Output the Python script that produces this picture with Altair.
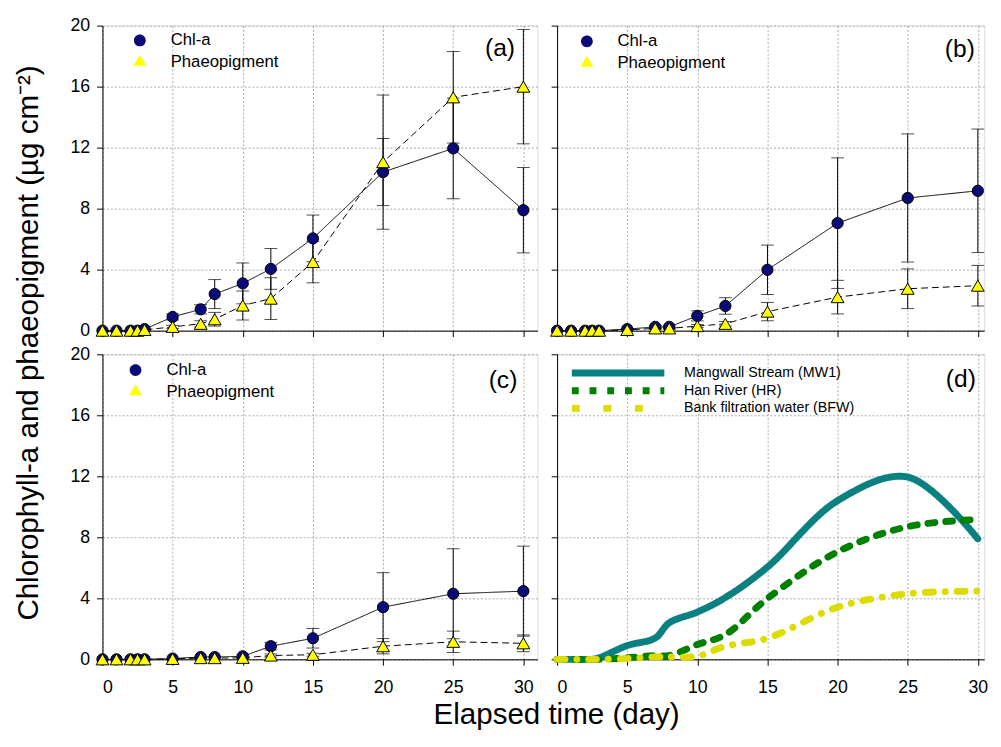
import altair as alt
import pandas as pd

# ---------------- data ----------------
days = [0, 1, 2, 2.5, 3, 5, 7, 8, 10, 12, 15, 20, 25, 30]

# panel (a) Mangwall Stream
a_chl = [0, 0, 0, 0, 0.1, 0.9, 1.4, 2.4, 3.1, 4.05, 6.05, 10.4, 11.95, 7.9]
a_chl_err = [0, 0, 0, 0, 0.05, 0.2, 0.3, 0.95, 1.34, 1.34, 1.53, 2.2, 3.3, 2.8]
a_pha = [0, 0, 0, 0, 0.05, 0.25, 0.45, 0.75, 1.65, 2.1, 4.5, 11.05, 15.3, 16.0]
a_pha_err = [0, 0, 0, 0, 0, 0.1, 0.2, 0.45, 0.95, 1.37, 1.36, 4.4, 3.0, 3.75]

# panel (b) Han River
b_chl = [0, 0, 0, 0, 0, 0.1, 0.25, 0.25, 0.97, 1.62, 3.99, 7.05, 8.7, 9.17]
b_chl_err = [0, 0, 0, 0, 0, 0.05, 0.1, 0.1, 0.33, 0.54, 1.62, 4.28, 4.2, 4.05]
b_pha = [0, 0, 0, 0, 0, 0.05, 0.15, 0.15, 0.3, 0.45, 1.25, 2.2, 2.75, 2.95]
b_pha_err = [0, 0, 0, 0, 0, 0, 0.05, 0.05, 0.1, 0.15, 0.6, 1.1, 1.3, 1.33]

# panel (c) Bank filtration water
c_chl = [0, 0, 0, 0, 0, 0.05, 0.15, 0.15, 0.2, 0.86, 1.38, 3.42, 4.3, 4.47]
c_chl_err = [0, 0, 0, 0, 0, 0, 0.05, 0.05, 0.1, 0.25, 0.64, 2.26, 2.95, 2.95]
c_pha = [0, 0, 0, 0, 0, 0.03, 0.08, 0.08, 0.1, 0.25, 0.3, 0.86, 1.15, 1.05]
c_pha_err = [0, 0, 0, 0, 0, 0, 0, 0, 0.05, 0.1, 0.1, 0.5, 0.7, 0.55]

SERIES = ["Chl-a", "Phaeopigment"]
D_SERIES = ["Mangwall Stream (MW1)", "Han River (HR)", "Bank filtration water (BFW)"]
D_COLORS = ["#0a8080", "#008000", "#dcdc00"]
TAGS = ["(a)", "(b)", "(c)", "(d)"]
X_TICKS = [0, 5, 10, 15, 20, 25, 30]
Y_TICKS = list(range(0, 21, 2))

FONT = "Liberation Sans"
W_L, W_R, H = 442, 434, 310
X_MAX_L, X_MAX_R = 31.0, 30.45
GRID = dict(grid=True, gridDash=[2, 2], gridColor="#a8a8a8", gridWidth=1)

CIRCLE_PATH = "M-3.3,0L-1,0M1,0L3.3,0M-1,0A1,1 0 1,1 1,0A1,1 0 1,1 -1,0Z"
TRI_PATH = ("M-3.3,0L-2.5,0M-2.0,0L-1.2,0M1.2,0L2.0,0M2.5,0L3.3,0"
            "M0,-1.25L-1.08,0.625L1.08,0.625Z")


def xaxis(labels, title=False):
    kw = dict(values=X_TICKS, labels=labels, tickSize=6, tickColor="black",
              domainColor="black", labelFont=FONT, labelFontSize=18,
              labelColor="black", labelPadding=14, **GRID)
    if title:
        kw.update(title="Elapsed time (day)", titleFont=FONT, titleFontSize=30,
                  titleFontWeight="normal", titleColor="black", titleX=461,
                  titleY=65, titleBaseline="alphabetic", titleAlign="center")
    else:
        kw.update(title=None)
    return alt.Axis(**kw)


def yaxis(labels, title=False):
    kw = dict(values=Y_TICKS, labels=labels, tickSize=6, tickColor="black",
              domainColor="black", labelFont=FONT, labelFontSize=18,
              labelColor="black", labelPadding=7, **GRID)
    if title:
        kw.update(title="Chlorophyll-a and phaeopigment (µg cm⁻²)", titleFont=FONT,
                  titleFontSize=30, titleFontWeight="normal", titleColor="black",
                  titleX=-66, titleY=322, titleBaseline="alphabetic",
                  titleAlign="center", titleAngle=270)
    else:
        kw.update(title=None)
    return alt.Axis(**kw)


def tag_layer(tag, xmax, xs, ys, dx, dy):
    tdf = pd.DataFrame({"tag": [tag], "day": [xmax], "value": [20]})
    return alt.Chart(tdf).mark_text(font=FONT, fontSize=25, color="black", align="right",
                                    baseline="alphabetic", dx=dx, dy=dy).encode(
        x=alt.X("day:Q", scale=xs), y=alt.Y("value:Q", scale=ys), text="tag:N")


def pair_panel(chl, chl_err, pha, pha_err, tag, width, xmax, xlab, ylab, xt, yt,
               leg_y, sym_off, lab_off, tdx, tdy):
    rows = []
    for name, vals, errs in ((SERIES[0], chl, chl_err), (SERIES[1], pha, pha_err)):
        for d, v, e in zip(days, vals, errs):
            rows.append(dict(day=d, value=v, err=e, series=name))
    df = pd.DataFrame(rows)
    df["lo"] = df["value"] - df["err"]
    df["hi"] = df["value"] + df["err"]
    dfe = df[df["err"] > 0]
    caps = pd.concat([
        dfe[["day", "lo"]].rename(columns={"lo": "cap"}),
        dfe[["day", "hi"]].rename(columns={"hi": "cap"}),
    ])
    xs = alt.Scale(domain=[0, xmax], nice=False, zero=False)
    ys = alt.Scale(domain=[0, 20], nice=False)
    xa = xaxis(xlab, xt)
    ya = yaxis(ylab, yt)
    X = alt.X("day:Q", scale=xs, axis=xa)

    legend = alt.Legend(
        title=None, orient="none", legendX=0, legendY=leg_y,
        symbolSize=144, symbolStrokeColor="black", symbolStrokeWidth=1,
        symbolOpacity=1, labelFont=FONT, labelFontSize=17, labelColor="black",
        symbolOffset=sym_off, labelOffset=lab_off, rowPadding=4, padding=0,
        clipHeight=17,
    )

    lines = alt.Chart(df).mark_line(color="black", strokeWidth=1).encode(
        x=X,
        y=alt.Y("value:Q", scale=ys, axis=ya),
        detail="series:N",
        strokeDash=alt.StrokeDash("series:N", scale=alt.Scale(domain=SERIES, range=[[1, 0], [7, 4]]), legend=None),
    )
    bars = alt.Chart(dfe).mark_rule(color="black", strokeWidth=1).encode(
        x=X, y=alt.Y("lo:Q", scale=ys, axis=ya), y2="hi:Q")
    capm = alt.Chart(caps).mark_tick(orient="horizontal", size=13, thickness=1, color="black").encode(
        x=X, y=alt.Y("cap:Q", scale=ys, axis=ya))
    pts = alt.Chart(df).mark_point(filled=True, opacity=1, stroke="black", strokeWidth=1).encode(
        x=X,
        y=alt.Y("value:Q", scale=ys, axis=ya),
        shape=alt.Shape("series:N", scale=alt.Scale(domain=SERIES, range=["circle", "triangle-up"]), legend=None),
        fill=alt.Fill("series:N", scale=alt.Scale(domain=SERIES, range=["#0a0a78", "#ffff00"]), legend=None),
        size=alt.Size("series:N", scale=alt.Scale(domain=SERIES, range=[130, 170]), legend=None),
    )
    # legend-only layer (no rows): its shape scale carries the line+marker key glyphs
    ldf = pd.DataFrame({"key": pd.Series([], dtype=str), "day": pd.Series([], dtype=float),
                        "value": pd.Series([], dtype=float)})
    keys = alt.Chart(ldf).mark_point(filled=True, opacity=1, stroke="black", strokeWidth=1).encode(
        x=X,
        y=alt.Y("value:Q", scale=ys, axis=ya),
        shape=alt.Shape("key:N", scale=alt.Scale(domain=SERIES, range=[CIRCLE_PATH, TRI_PATH]), legend=legend),
        fill=alt.Fill("key:N", scale=alt.Scale(domain=SERIES, range=["#0a0a78", "#ffff00"]), legend=legend),
    )
    tagl = tag_layer(tag, xmax, xs, ys, tdx, tdy)
    return alt.layer(lines, bars, capm, pts, keys, tagl).resolve_scale(
        shape="independent", fill="independent").properties(width=width, height=H)


def curve_panel():
    rows = []
    for name, vals in zip(D_SERIES, (a_chl, b_chl, c_chl)):
        for d, v in zip(days, vals):
            rows.append(dict(day=d, value=v, site=name))
    df = pd.DataFrame(rows)
    xs = alt.Scale(domain=[0, X_MAX_R], nice=False, zero=False)
    ys = alt.Scale(domain=[0, 20], nice=False)
    legend = alt.Legend(
        title=None, orient="none", legendX=0, legendY=11, symbolType="stroke",
        symbolSize=8836, symbolStrokeWidth=7, symbolOpacity=1, clipHeight=16,
        labelFont=FONT, labelFontSize=14.5, labelColor="black", labelLimit=400,
        symbolOffset=11.5, labelOffset=16.5, rowPadding=2, padding=0,
    )
    curves = alt.Chart(df).mark_line(strokeWidth=7, strokeCap="round", interpolate="catmull-rom").encode(
        x=alt.X("day:Q", scale=xs, axis=xaxis(True)),
        y=alt.Y("value:Q", scale=ys, axis=yaxis(False)),
        color=alt.Color("site:N", scale=alt.Scale(domain=D_SERIES, range=D_COLORS), legend=legend),
        strokeDash=alt.StrokeDash("site:N", scale=alt.Scale(domain=D_SERIES, range=[[1, 0], [7, 11], [8, 12, 0.1, 12]]), legend=legend),
    )
    return alt.layer(curves, tag_layer("(d)", X_MAX_R, xs, ys, -8.4, 33)).properties(width=W_R, height=H)


pa = pair_panel(a_chl, a_chl_err, a_pha, a_pha_err, "(a)", W_L, X_MAX_L, False, True, False, True,
                6.5, 29.5, 22.8, -22.7, 30.8)
pb = pair_panel(b_chl, b_chl_err, b_pha, b_pha_err, "(b)", W_R, X_MAX_R, False, False, False, False,
                7.5, 21.8, 22.5, -9.4, 32)
pc = pair_panel(c_chl, c_chl_err, c_pha, c_pha_err, "(c)", W_L, X_MAX_L, True, True, True, False,
                7.5, 25.1, 22.9, -20.4, 34)
pd_ = curve_panel()

chart = alt.concat(pa, pb, pc, pd_, columns=2, spacing={"row": 24, "column": 20}, bounds="flush").resolve_scale(
    fill="independent", shape="independent", size="independent",
    strokeDash="independent", color="independent",
).properties(
    padding={"left": 5, "top": 2, "right": 0, "bottom": 0}
).configure_view(stroke="black", strokeWidth=1).configure(font=FONT)

chart.save("out.html", embed_options={"renderer": "svg", "actions": False})
